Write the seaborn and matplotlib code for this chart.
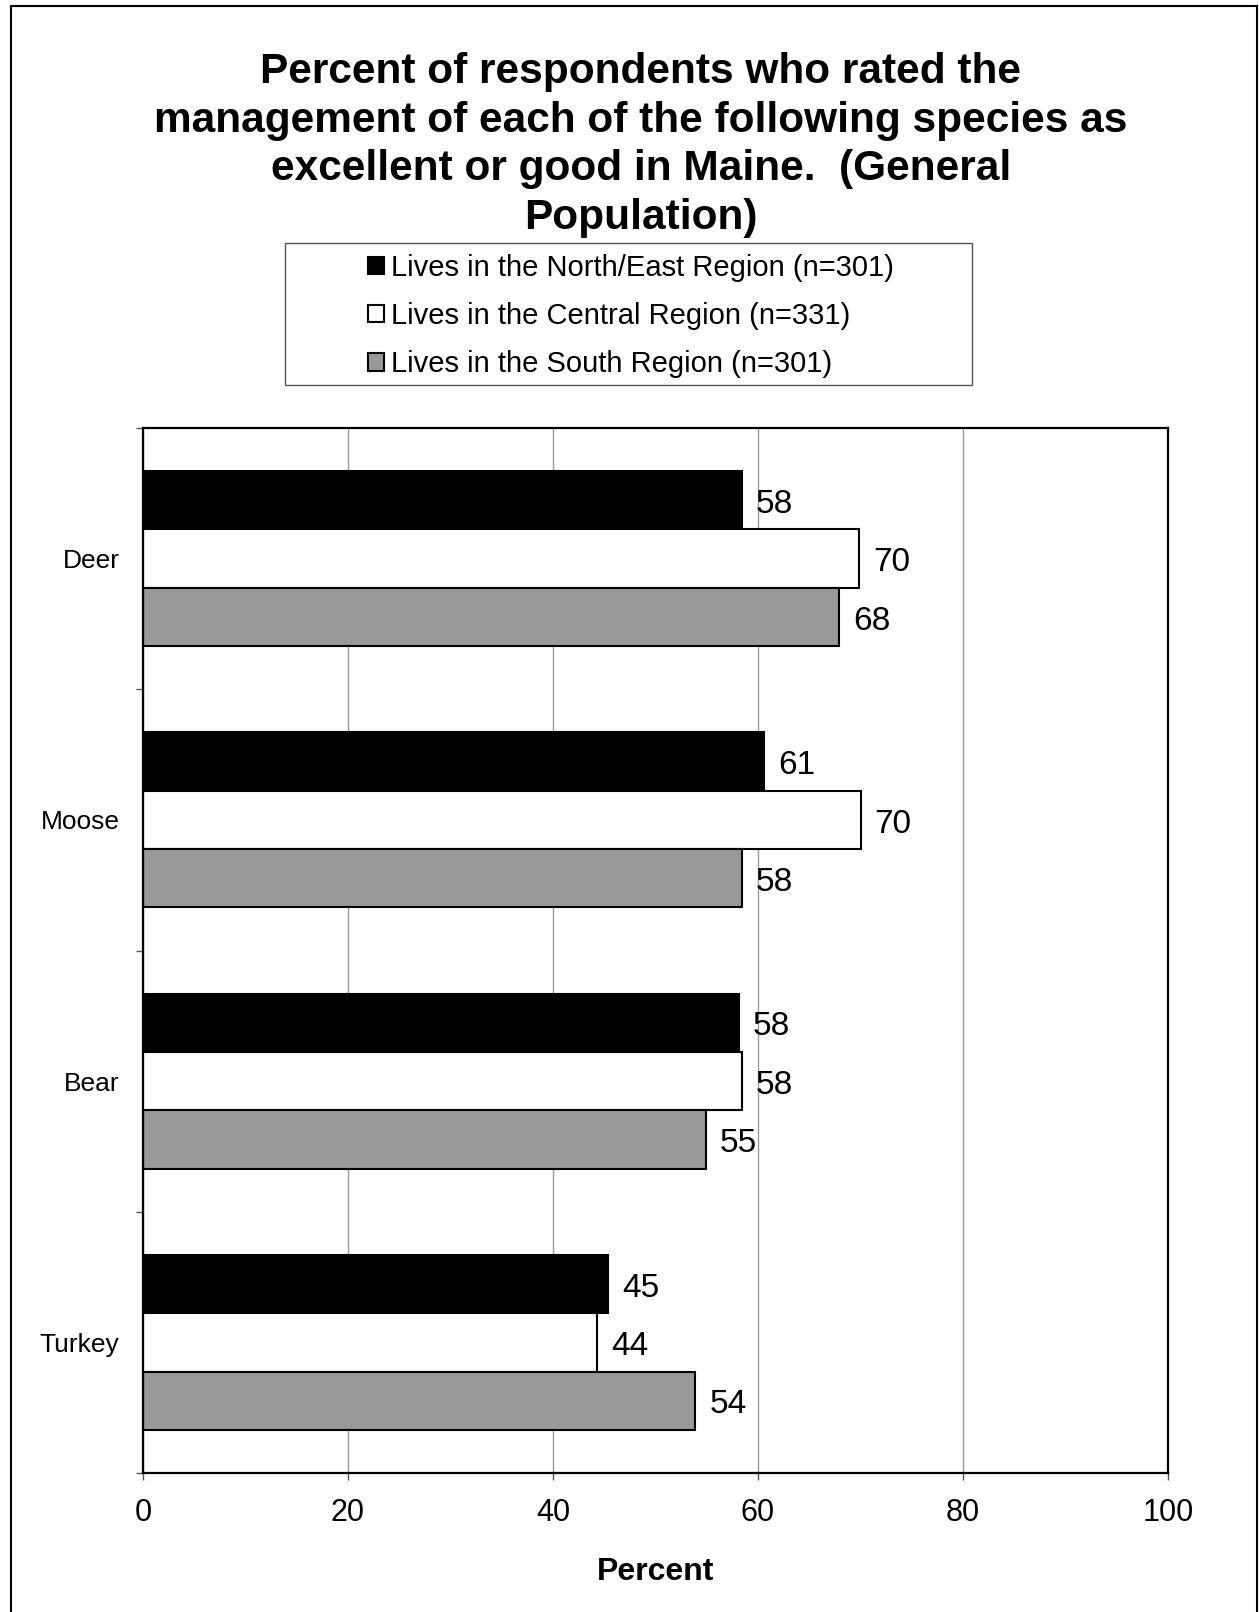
import matplotlib
matplotlib.use("Agg")
import matplotlib.pyplot as plt
from matplotlib.lines import Line2D
from matplotlib.patches import Rectangle
import pandas as pd
import seaborn as sns

# values (percent rating excellent/good)
species = ['Deer', 'Moose', 'Bear', 'Turkey']
regions = ['Lives in the North/East Region (n=301)',
           'Lives in the Central Region (n=331)',
           'Lives in the South Region (n=301)']
north_east = [58.4, 60.6, 58.1, 45.4]
central = [69.9, 70.0, 58.4, 44.3]
south = [67.9, 58.4, 54.9, 53.9]
region_colors = ['#000000', '#ffffff', '#999999']
x_ticks = [0, 20, 40, 60, 80, 100]

df = pd.DataFrame({
    'Species': species * 3,
    'Region': [r for r in regions for _ in species],
    'Percent': north_east + central + south,
})

sns.set_style('white')
plt.rcParams['font.family'] = ['Liberation Sans', 'DejaVu Sans']
plt.rcParams.update({'text.color': 'black', 'axes.labelcolor': 'black',
                     'xtick.labelcolor': 'black', 'ytick.labelcolor': 'black'})

W, H = 1259, 1612
fig = plt.figure(figsize=(W / 100, H / 100), dpi=100)
ax = fig.add_axes([143 / W, 1 - 1473 / H, (1168 - 143) / W, (1473 - 428) / H])

sns.barplot(
    data=df, x='Percent', y='Species', hue='Region', order=species,
    hue_order=regions, palette=region_colors, orient='h', width=0.67,
    edgecolor='black', linewidth=1.5, saturation=1, ax=ax,
)

handles, labels = ax.get_legend_handles_labels()
ax.get_legend().remove()

for cont in ax.containers:
    anns = ax.bar_label(cont, fmt='%.0f', padding=10, fontsize=24, color='black')
    for a in anns:
        a.xyann = (10, -3)  # nudge a touch below bar centre, as in the original

ax.set_xlim(0, 100)
ax.set_xticks(x_ticks)
ax.set_ylim(3.5, -0.5)
ax.set_axisbelow(True)
ax.grid(axis='x', color='#999999', linewidth=1.0)
ax.grid(axis='y', visible=False)

ax.set_yticks([-0.5, 0.5, 1.5, 2.5, 3.5], minor=True)
ax.tick_params(axis='y', which='major', length=0, pad=17, labelsize=19)
ax.tick_params(axis='y', which='minor', length=5, width=1, color='#555555', left=True)
ax.tick_params(axis='x', which='major', length=5, width=1, color='#555555',
               bottom=True, pad=13, labelsize=22)

ax.set_ylabel('')
ax.set_xlabel('Percent', fontsize=23, fontweight='bold', labelpad=21)
for s in ax.spines.values():
    s.set_color('black')
    s.set_linewidth(1.6)

fig.text(641 / W, 1 - 145 / H,
         'Percent of respondents who rated the\n'
         'management of each of the following species as\n'
         'excellent or good in Maine.  (General\n'
         'Population)',
         ha='center', va='center', fontsize=30.5, fontweight='bold',
         multialignment='center', linespacing=1.27)

# legend box drawn separately so the entries sit centred inside
fig.add_artist(Rectangle((284.7 / W, 1 - 385.4 / H), (972 - 284.7) / W, (385.4 - 242.6) / H,
                         transform=fig.transFigure, facecolor='none',
                         edgecolor='#555555', linewidth=1))
fig.legend(handles, labels, loc='center', bbox_to_anchor=(631 / W, 1 - 316 / H),
           frameon=False, fontsize=21, handlelength=0.55, handleheight=0.55,
           handletextpad=0.25, labelspacing=0.69)

# outer frame
fig.add_artist(Line2D([11 / W, 11 / W], [0, 1 - 6 / H], color='black', lw=1.5, transform=fig.transFigure))
fig.add_artist(Line2D([11 / W, 1257 / W], [1 - 6 / H, 1 - 6 / H], color='black', lw=1.5, transform=fig.transFigure))
fig.add_artist(Line2D([1257 / W, 1257 / W], [0, 1 - 6 / H], color='black', lw=1.5, transform=fig.transFigure))

fig.savefig('out.png', dpi=100)
